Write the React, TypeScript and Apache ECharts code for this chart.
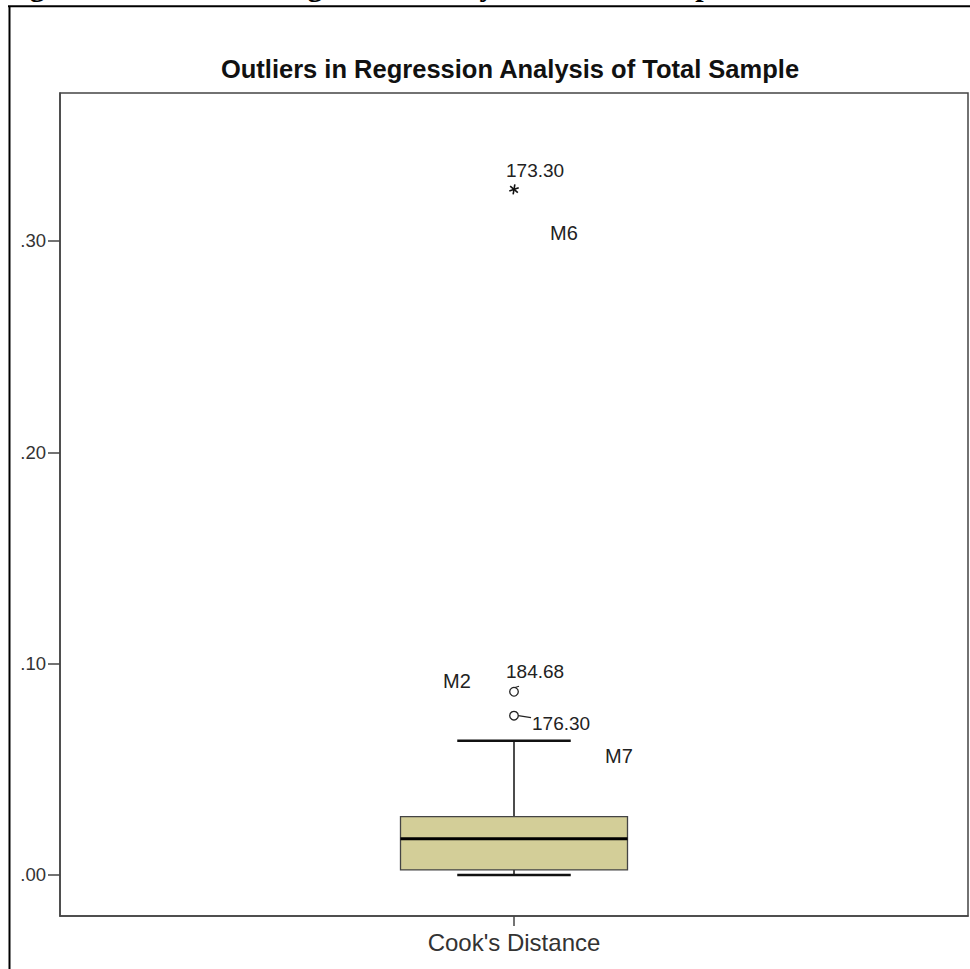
import React, { useEffect, useRef } from "react";
import * as echarts from "echarts";

// ---- data ----
const categories = ["Cook's Distance"];
// [min (lower whisker), Q1, median, Q3, max (upper whisker)]
const boxStats = [0.0, 0.0024, 0.0172, 0.0276, 0.0635];
const outlierValues = [0.0754, 0.0867];
const outlierLabels = ["176.30", "184.68"];
const extremeValues = [0.3244];
const extremeLabels = ["173.30"];
const yTicks = [0, 0.1, 0.2, 0.3];
const yMin = -0.0194;
const yMax = 0.37;
const modelNotes = ["M2", "M6", "M7"];
const chartTitle = "Outliers in Regression Analysis of Total Sample";
const caption = "Figure 4: Outliers in Regression Analysis of Total Sample";

const FONT = "'Liberation Sans', Arial, sans-serif";

export default function App() {
  const ref = useRef<HTMLDivElement>(null);

  useEffect(() => {
    if (!ref.current) return;
    const chart = echarts.init(ref.current, undefined, { renderer: "svg" });

    const boxData = [[0, ...boxStats]];
    const outlierData = outlierValues.map((v) => [0, v]);
    const extremeData = extremeValues.map((v) => [0, v]);

    const option: any = {
      animation: false,
      backgroundColor: "#ffffff",
      title: {
        text: chartTitle,
        left: 505,
        top: 51,
        textAlign: "center",
        textStyle: { fontFamily: FONT, fontSize: 25.5, fontWeight: "bold", color: "#111" },
      },
      grid: {
        left: 60,
        right: 2,
        top: 93,
        bottom: 53,
        show: true,
        borderColor: "#444",
        borderWidth: 1.5,
        backgroundColor: "transparent",
      },
      xAxis: {
        type: "category",
        data: categories,
        boundaryGap: true,
        axisLine: { show: true, onZero: false, lineStyle: { color: "#444", width: 1.5 } },
        axisTick: { show: true, alignWithLabel: true, length: 10, lineStyle: { color: "#444", width: 1.5 } },
        axisLabel: { fontFamily: FONT, fontSize: 24, color: "#333", margin: 14 },
        splitLine: { show: false },
      },
      yAxis: {
        type: "value",
        min: yMin,
        max: yMax,
        axisLine: { show: true, lineStyle: { color: "#444", width: 1.5 } },
        axisTick: {
          show: true,
          length: 12,
          customValues: yTicks,
          lineStyle: { color: "#444", width: 1.5 },
        },
        axisLabel: {
          customValues: yTicks,
          fontFamily: FONT,
          fontSize: 18.5,
          color: "#333",
          margin: 14,
          formatter: (v: number) => "." + v.toFixed(2).split(".")[1],
        },
        splitLine: { show: false },
      },
      series: [
        {
          type: "custom",
          name: "box",
          data: boxData,
          encode: { x: 0, y: [1, 2, 3, 4, 5] },
          renderItem: (params: any, api: any) => {
            const x = api.value(0);
            const pMin = api.coord([x, api.value(1)]);
            const pQ1 = api.coord([x, api.value(2)]);
            const pMed = api.coord([x, api.value(3)]);
            const pQ3 = api.coord([x, api.value(4)]);
            const pMax = api.coord([x, api.value(5)]);
            const bw = api.size([1, 0])[0] * 0.25;
            const cx = pMed[0];
            const cap = bw / 4;
            return {
              type: "group",
              children: [
                { type: "line", shape: { x1: cx, y1: pMax[1], x2: cx, y2: pQ3[1] }, style: { stroke: "#111", lineWidth: 1.5 } },
                { type: "line", shape: { x1: cx, y1: pQ1[1], x2: cx, y2: pMin[1] }, style: { stroke: "#111", lineWidth: 1.5 } },
                { type: "line", shape: { x1: cx - cap, y1: pMax[1], x2: cx + cap, y2: pMax[1] }, style: { stroke: "#111", lineWidth: 2.5 } },
                { type: "line", shape: { x1: cx - cap, y1: pMin[1], x2: cx + cap, y2: pMin[1] }, style: { stroke: "#111", lineWidth: 2.5 } },
                {
                  type: "rect",
                  shape: { x: cx - bw / 2, y: pQ3[1], width: bw, height: pQ1[1] - pQ3[1] },
                  style: { fill: "#D3CE98", stroke: "#444", lineWidth: 1.3 },
                },
                { type: "line", shape: { x1: cx - bw / 2, y1: pMed[1], x2: cx + bw / 2, y2: pMed[1] }, style: { stroke: "#000", lineWidth: 3 } },
              ],
            };
          },
          z: 2,
        },
        {
          type: "custom",
          name: "outliers",
          data: outlierData,
          encode: { x: 0, y: 1 },
          renderItem: (params: any, api: any) => {
            const p = api.coord([api.value(0), api.value(1)]);
            const i = params.dataIndex;
            const children: any[] = [
              { type: "circle", shape: { cx: p[0], cy: p[1], r: 4.3 }, style: { fill: "#fff", stroke: "#222", lineWidth: 1.3 } },
            ];
            if (i === 0) {
              children.push({ type: "line", shape: { x1: p[0] + 4.3, y1: p[1], x2: p[0] + 17, y2: p[1] + 2 }, style: { stroke: "#222", lineWidth: 1.3 } });
              children.push({
                type: "text",
                style: { x: p[0] + 18, y: p[1] + 8, text: outlierLabels[i], font: `19px ${FONT}`, fill: "#222", verticalAlign: "middle", align: "left" },
              });
            } else {
              children.push({ type: "line", shape: { x1: p[0] + 1, y1: p[1] - 4.3, x2: p[0] + 5, y2: p[1] - 5.5 }, style: { stroke: "#222", lineWidth: 1.2 } });
              children.push({
                type: "text",
                style: { x: p[0] - 8, y: p[1] - 20, text: outlierLabels[i], font: `19px ${FONT}`, fill: "#222", verticalAlign: "middle", align: "left" },
              });
            }
            return { type: "group", children };
          },
          z: 3,
        },
        {
          type: "custom",
          name: "extremes",
          data: extremeData,
          encode: { x: 0, y: 1 },
          renderItem: (params: any, api: any) => {
            const p = api.coord([api.value(0), api.value(1)]);
            const r = 5;
            const arms = [100, 40, 160].map((deg) => {
              const a = (deg * Math.PI) / 180;
              return {
                type: "line",
                shape: { x1: p[0] - r * Math.cos(a), y1: p[1] - r * Math.sin(a), x2: p[0] + r * Math.cos(a), y2: p[1] + r * Math.sin(a) },
                style: { stroke: "#111", lineWidth: 1.6 },
              };
            });
            return {
              type: "group",
              children: [
                ...arms,
                {
                  type: "text",
                  style: { x: p[0] - 8, y: p[1] - 19, text: extremeLabels[params.dataIndex], font: `19px ${FONT}`, fill: "#222", verticalAlign: "middle", align: "left" },
                },
              ],
            };
          },
          z: 3,
        },
      ],
      graphic: [
        { type: "line", shape: { x1: 8, y1: 6.3, x2: 970, y2: 6.3 }, style: { stroke: "#000", lineWidth: 2 }, silent: true },
        { type: "line", shape: { x1: 9.5, y1: 6, x2: 9.5, y2: 969 }, style: { stroke: "#000", lineWidth: 2 }, silent: true },
        {
          type: "text",
          x: 3,
          y: -15,
          style: { text: caption, font: `bold 30px 'Liberation Serif', 'Times New Roman', serif`, fill: "#000", verticalAlign: "middle", align: "left" },
          silent: true,
        },
        { type: "text", x: 457, y: 681, style: { text: modelNotes[0], font: `20px ${FONT}`, fill: "#222", verticalAlign: "middle", align: "center" } },
        { type: "text", x: 564, y: 233, style: { text: modelNotes[1], font: `20px ${FONT}`, fill: "#222", verticalAlign: "middle", align: "center" } },
        { type: "text", x: 619, y: 756, style: { text: modelNotes[2], font: `20px ${FONT}`, fill: "#222", verticalAlign: "middle", align: "center" } },
      ],
    };

    chart.setOption(option);
    return () => chart.dispose();
  }, []);

  return (
    <div
      ref={ref}
      style={{ position: "absolute", left: 0, top: 0, width: 970, height: 969, background: "#fff" }}
    />
  );
}
